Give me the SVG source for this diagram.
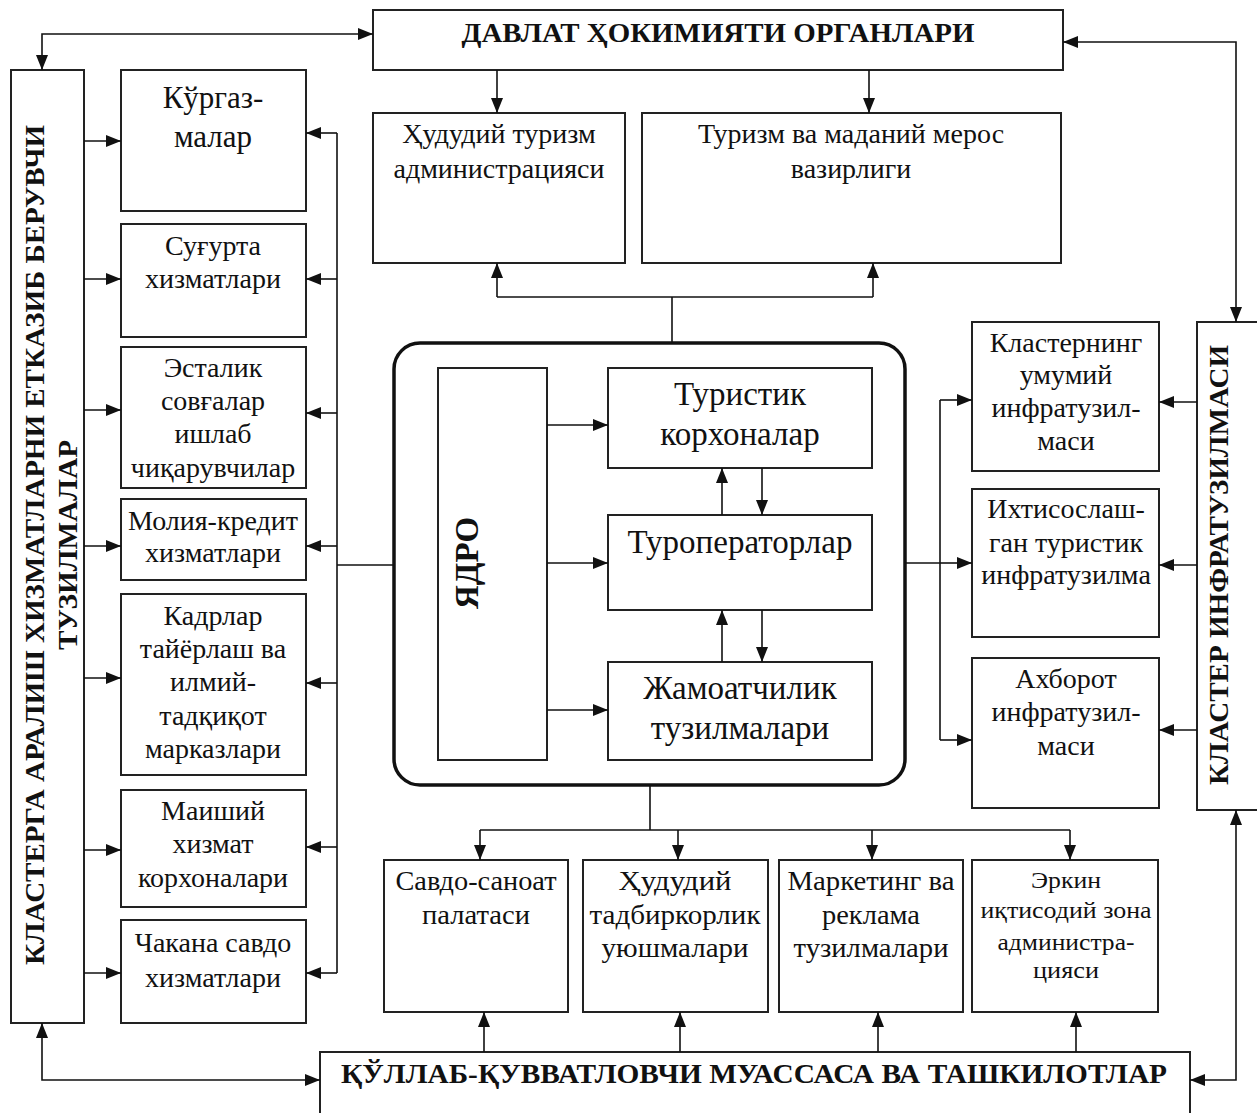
<svg xmlns="http://www.w3.org/2000/svg" width="1257" height="1113" viewBox="0 0 1257 1113">
<defs>
<marker id="a" viewBox="0 0 15 12" refX="15" refY="6" markerWidth="15" markerHeight="12" markerUnits="userSpaceOnUse" orient="auto-start-reverse"><path d="M0,0 L15,6 L0,12 z" fill="#111"/></marker>
<style>
.b{fill:#fff;stroke:#222;stroke-width:2}
.t{font-family:"Liberation Serif","Times New Roman",serif;font-size:28px;fill:#111;text-anchor:middle}
.c{font-size:33px}
.h{font-weight:bold}
#conn path{fill:none;stroke:#111;stroke-width:1.6}
.e{marker-end:url(#a)}
.s{marker-start:url(#a)}
</style>
</defs>
<rect width="1257" height="1113" fill="#fff"/>

<g id="davlat"><rect class="b" x="373" y="10" width="690" height="60"/><text class="t h" x="718" y="42" textLength="513" lengthAdjust="spacingAndGlyphs">ДАВЛАТ ҲОКИМИЯТИ ОРГАНЛАРИ</text></g>
<g id="left-main"><rect class="b" x="11" y="70" width="73" height="953"/>
<text class="t h" transform="translate(44,545) rotate(-90)" textLength="840" lengthAdjust="spacingAndGlyphs">КЛАСТЕРГА АРАЛИШ ХИЗМАТЛАРНИ ЕТКАЗИБ БЕРУВЧИ</text>
<text class="t h" transform="translate(77,545) rotate(-90)" textLength="210" lengthAdjust="spacingAndGlyphs">ТУЗИЛМАЛАР</text></g>

<g id="l1"><rect class="b" x="121" y="70" width="185" height="141"/><text class="t" style="font-size:31px" x="213" y="108">Кўргаз-</text><text class="t" style="font-size:31px" x="213" y="147">малар</text></g>
<g id="l2"><rect class="b" x="121" y="224" width="185" height="113"/><text class="t" x="213" y="255">Суғурта</text><text class="t" x="213" y="288">хизматлари</text></g>
<g id="l3"><rect class="b" x="121" y="347" width="185" height="141"/><text class="t" x="213" y="377">Эсталик</text><text class="t" x="213" y="410">совғалар</text><text class="t" x="213" y="443">ишлаб</text><text class="t" x="213" y="477">чиқарувчилар</text></g>
<g id="l4"><rect class="b" x="121" y="499" width="185" height="81"/><text class="t" x="213" y="530">Молия-кредит</text><text class="t" x="213" y="562">хизматлари</text></g>
<g id="l5"><rect class="b" x="121" y="594" width="185" height="181"/><text class="t" x="213" y="625">Кадрлар</text><text class="t" x="213" y="658">тайёрлаш ва</text><text class="t" x="213" y="691">илмий-</text><text class="t" x="213" y="725">тадқиқот</text><text class="t" x="213" y="758">марказлари</text></g>
<g id="l6"><rect class="b" x="121" y="790" width="185" height="117"/><text class="t" x="213" y="820">Маиший</text><text class="t" x="213" y="853">хизмат</text><text class="t" x="213" y="887">корхоналари</text></g>
<g id="l7"><rect class="b" x="121" y="920" width="185" height="103"/><text class="t" x="213" y="952">Чакана савдо</text><text class="t" x="213" y="987">хизматлари</text></g>

<g id="t1"><rect class="b" x="373" y="113" width="252" height="150"/><text class="t" x="499" y="143">Ҳудудий туризм</text><text class="t" x="499" y="178">администрацияси</text></g>
<g id="t2"><rect class="b" x="642" y="113" width="419" height="150"/><text class="t" x="851" y="143">Туризм ва маданий мерос</text><text class="t" x="851" y="178">вазирлиги</text></g>

<g id="core"><rect x="394" y="343" width="511" height="442" rx="26" fill="#fff" stroke="#111" stroke-width="3.5"/></g>
<g id="yadro"><rect class="b" x="438" y="368" width="109" height="392"/><text class="t h c" transform="translate(478,563) rotate(-90)">ЯДРО</text></g>
<g id="c1"><rect class="b" x="608" y="368" width="264" height="100"/><text class="t c" x="740" y="405">Туристик</text><text class="t c" x="740" y="445">корхоналар</text></g>
<g id="c2"><rect class="b" x="608" y="515" width="264" height="95"/><text class="t c" x="740" y="553">Туроператорлар</text></g>
<g id="c3"><rect class="b" x="608" y="662" width="264" height="98"/><text class="t c" x="740" y="699">Жамоатчилик</text><text class="t c" x="740" y="739">тузилмалари</text></g>

<g id="right-main"><rect class="b" x="1197" y="322" width="70" height="488"/><text class="t h" transform="translate(1228,565) rotate(-90)" textLength="440" lengthAdjust="spacingAndGlyphs">КЛАСТЕР ИНФРАТУЗИЛМАСИ</text></g>
<g id="r1"><rect class="b" x="972" y="322" width="187" height="149"/><text class="t" x="1066" y="352">Кластернинг</text><text class="t" x="1066" y="384">умумий</text><text class="t" x="1066" y="417">инфратузил-</text><text class="t" x="1066" y="450">маси</text></g>
<g id="r2"><rect class="b" x="972" y="489" width="187" height="148"/><text class="t" x="1066" y="518">Ихтисослаш-</text><text class="t" x="1066" y="552">ган туристик</text><text class="t" x="1066" y="584">инфратузилма</text></g>
<g id="r3"><rect class="b" x="972" y="658" width="187" height="150"/><text class="t" x="1066" y="688">Ахборот</text><text class="t" x="1066" y="721">инфратузил-</text><text class="t" x="1066" y="755">маси</text></g>

<g id="b1"><rect class="b" x="384" y="860" width="184" height="152"/><text class="t" x="476" y="890" textLength="161" lengthAdjust="spacingAndGlyphs">Савдо-саноат</text><text class="t" x="476" y="924" textLength="108" lengthAdjust="spacingAndGlyphs">палатаси</text></g>
<g id="b2"><rect class="b" x="583" y="860" width="185" height="152"/><text class="t" x="675" y="890" textLength="113" lengthAdjust="spacingAndGlyphs">Ҳудудий</text><text class="t" x="675" y="924" textLength="171" lengthAdjust="spacingAndGlyphs">тадбиркорлик</text><text class="t" x="675" y="957" textLength="147" lengthAdjust="spacingAndGlyphs">уюшмалари</text></g>
<g id="b3"><rect class="b" x="779" y="860" width="184" height="152"/><text class="t" x="871" y="890" textLength="167" lengthAdjust="spacingAndGlyphs">Маркетинг ва</text><text class="t" x="871" y="924" textLength="98" lengthAdjust="spacingAndGlyphs">реклама</text><text class="t" x="871" y="957" textLength="155" lengthAdjust="spacingAndGlyphs">тузилмалари</text></g>
<g id="b4"><rect class="b" x="972" y="860" width="186" height="152"/><text class="t" style="font-size:24px" x="1066" y="888" textLength="70" lengthAdjust="spacingAndGlyphs">Эркин</text><text class="t" style="font-size:24px" x="1066" y="918" textLength="171" lengthAdjust="spacingAndGlyphs">иқтисодий зона</text><text class="t" style="font-size:24px" x="1066" y="950" textLength="137" lengthAdjust="spacingAndGlyphs">администра-</text><text class="t" style="font-size:24px" x="1066" y="978" textLength="66" lengthAdjust="spacingAndGlyphs">цияси</text></g>

<g id="support"><rect class="b" x="320" y="1052" width="870" height="70"/><text class="t h" x="754" y="1083" textLength="826" lengthAdjust="spacingAndGlyphs">ҚЎЛЛАБ-ҚУВВАТЛОВЧИ МУАССАСА ВА ТАШКИЛОТЛАР</text></g>

<g id="conn">
<path class="s e" d="M42,70 V34 H373"/>
<path class="s e" d="M1063,42 H1236 V322"/>
<path class="s e" d="M42,1023 V1080 H320"/>
<path class="s e" d="M1236,810 V1080 H1190"/>
<path class="e" d="M84,141 H121"/><path class="e" d="M84,279 H121"/><path class="e" d="M84,410 H121"/><path class="e" d="M84,546 H121"/><path class="e" d="M84,678 H121"/><path class="e" d="M84,850 H121"/><path class="e" d="M84,973 H121"/>
<path d="M337,133 V973"/><path d="M394,565 H337"/>
<path class="e" d="M337,133 H306"/><path class="e" d="M337,279 H306"/><path class="e" d="M337,413 H306"/><path class="e" d="M337,546 H306"/><path class="e" d="M337,683 H306"/><path class="e" d="M337,847 H306"/><path class="e" d="M337,973 H306"/>
<path class="e" d="M497,70 V113"/><path class="e" d="M869,70 V113"/>
<path d="M672,343 V297"/><path d="M497,297 H873"/><path class="e" d="M497,297 V263"/><path class="e" d="M873,297 V263"/>
<path class="e" d="M547,425 H608"/><path class="e" d="M547,563 H608"/><path class="e" d="M547,710 H608"/>
<path class="e" d="M722,515 V468"/><path class="e" d="M762,468 V515"/><path class="e" d="M722,662 V610"/><path class="e" d="M762,610 V662"/>
<path d="M905,563 H940"/><path d="M940,400 V740"/>
<path class="e" d="M940,400 H972"/><path class="e" d="M940,563 H972"/><path class="e" d="M940,740 H972"/>
<path class="e" d="M1197,402 H1159"/><path class="e" d="M1197,565 H1159"/><path class="e" d="M1197,730 H1159"/>
<path d="M650,785 V830"/><path d="M480,830 H1070"/>
<path class="e" d="M480,830 V860"/><path class="e" d="M678,830 V860"/><path class="e" d="M872,830 V860"/><path class="e" d="M1070,830 V860"/>
<path class="e" d="M484,1052 V1012"/><path class="e" d="M680,1052 V1012"/><path class="e" d="M878,1052 V1012"/><path class="e" d="M1076,1052 V1012"/>
</g>
</svg>
